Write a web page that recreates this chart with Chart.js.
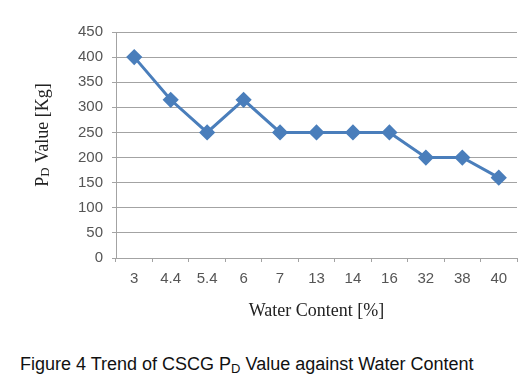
<!DOCTYPE html>
<html lang="en">
<head>
    <meta charset="UTF-8">
    <script src="https://cdn.jsdelivr.net/npm/chart.js"></script>
    <title>Trend of CSCG PD Value against Water Content</title>
    <style>
        body { margin: 0; background: #fff; }
        #wrap { position: relative; width: 529px; height: 390px; }
        #pdChart { position: absolute; left: 0; top: 0; }
        #caption {
            position: absolute; left: 20px; top: 354px;
            font-family: "Liberation Sans", Arial, sans-serif; font-size: 18px; color: #111;
            white-space: nowrap;
        }
        #caption sub { font-size: 13px; vertical-align: -3px; line-height: 0; }
    </style>
</head>
<body>
    <div id="wrap">
        <canvas id="pdChart" width="529" height="340"></canvas>
        <div id="caption">Figure 4 Trend of CSCG P<sub>D</sub> Value against Water Content</div>
    </div>

    <script>
        // data
        const waterContent = ['3', '4.4', '5.4', '6', '7', '13', '14', '16', '32', '38', '40'];
        const pdValues = [400, 315, 250, 315, 250, 250, 250, 250, 200, 200, 160];
        const yMin = 0, yMax = 450, yStep = 50;

        const lineBlue = '#4a7ebb';
        const gridGray = '#a3a3a3';

        // axis titles drawn by hand so the D can sit as a subscript
        const axisTitles = {
            id: 'axisTitles',
            afterDraw(chart) {
                const ctx = chart.ctx;
                const area = chart.chartArea;
                ctx.save();
                ctx.fillStyle = '#222';
                ctx.textBaseline = 'middle';

                // x title
                ctx.font = '18px "Liberation Serif", "Times New Roman", serif';
                ctx.textAlign = 'center';
                ctx.fillText('Water Content [%]', (area.left + area.right) / 2, 311);

                // y title, rotated, with subscript D
                ctx.translate(43, 135);
                ctx.rotate(-Math.PI / 2);
                const big = '18px "Liberation Serif", "Times New Roman", serif';
                const small = '13px "Liberation Serif", "Times New Roman", serif';
                ctx.font = big;
                const wP = ctx.measureText('P').width;
                const wRest = ctx.measureText(' Value [Kg]').width;
                ctx.font = small;
                const wD = ctx.measureText('D').width;
                let x = -(wP + wD + wRest) / 2;
                ctx.textAlign = 'left';
                ctx.font = big;
                ctx.fillText('P', x, 0);
                x += wP;
                ctx.font = small;
                ctx.fillText('D', x, 3);
                x += wD;
                ctx.font = big;
                ctx.fillText(' Value [Kg]', x, 0);
                ctx.restore();
            }
        };

        const ctx = document.getElementById('pdChart').getContext('2d');
        new Chart(ctx, {
            type: 'line',
            data: {
                labels: waterContent,
                datasets: [{
                    data: pdValues,
                    borderColor: lineBlue,
                    backgroundColor: lineBlue,
                    borderWidth: 3,
                    pointStyle: 'rectRot',
                    pointRadius: 6,
                    pointHoverRadius: 6,
                    tension: 0,
                    fill: false
                }]
            },
            options: {
                responsive: false,
                animation: false,
                layout: { padding: { top: 32, right: 12, left: 0, bottom: 0 } },
                plugins: {
                    legend: { display: false },
                    tooltip: { enabled: false }
                },
                scales: {
                    x: {
                        offset: true,
                        afterFit: (s) => { s.height = 82; },
                        grid: {
                            offset: true,
                            drawOnChartArea: false,
                            drawTicks: true,
                            tickLength: 4,
                            color: gridGray
                        },
                        border: { color: gridGray, width: 1 },
                        ticks: {
                            color: '#555555',
                            padding: 8,
                            maxRotation: 0,
                            font: { family: '"Liberation Sans", Arial, sans-serif', size: 15 }
                        }
                    },
                    y: {
                        min: yMin,
                        max: yMax,
                        afterFit: (s) => { s.width = 116; },
                        grid: {
                            color: gridGray,
                            tickLength: 4
                        },
                        border: { color: gridGray, width: 1 },
                        ticks: {
                            stepSize: yStep,
                            color: '#555555',
                            padding: 9,
                            font: { family: '"Liberation Sans", Arial, sans-serif', size: 15 }
                        }
                    }
                }
            },
            plugins: [axisTitles]
        });
    </script>
</body>
</html>
